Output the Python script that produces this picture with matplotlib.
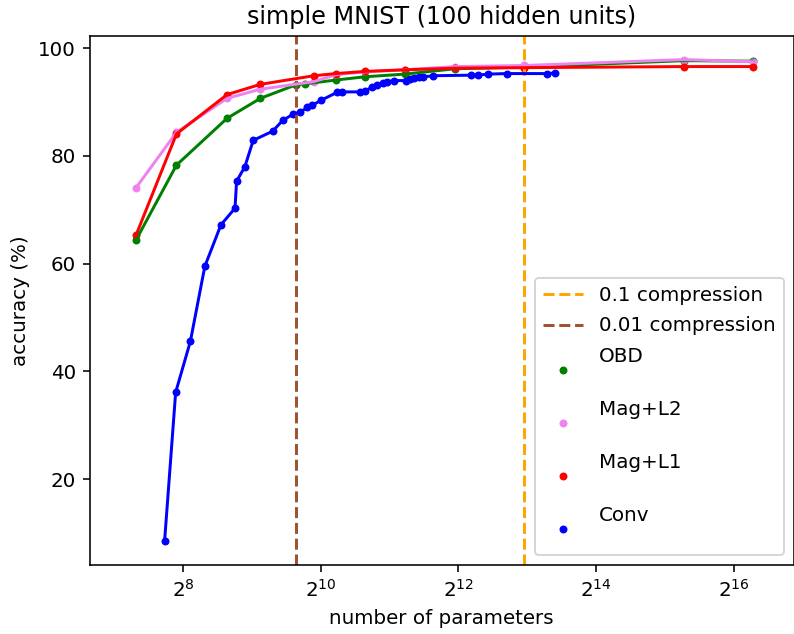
import matplotlib
matplotlib.use('Agg')
import matplotlib.pyplot as plt

# simple MNIST, 784-100-10 net
total_params = 79510
compressions = [0.1, 0.01]

obd_params = [159, 239, 398, 557, 795, 875, 1193, 1590, 2385, 3976, 7951, 39755, 79510]
obd_acc = [64.4, 78.3, 87.0, 90.7, 93.2, 93.4, 94.1, 94.7, 95.2, 96.2, 96.5, 97.7, 97.6]

l2_params = [159, 239, 398, 557, 954, 1193, 1590, 2385, 3976, 7951, 39755, 79510]
l2_acc = [74.1, 84.4, 90.7, 92.4, 93.8, 95.1, 95.6, 96.0, 96.6, 96.8, 97.9, 97.5]

l1_params = [159, 239, 398, 557, 954, 1193, 1590, 2385, 3976, 7951, 39755, 79510]
l1_acc = [65.3, 84.1, 91.4, 93.3, 94.9, 95.3, 95.7, 96.0, 96.3, 96.4, 96.6, 96.6]

conv_params = [212, 237, 275, 318, 374, 431, 438, 476, 518, 630, 697, 777, 831, 891,
               938, 1022, 1204, 1270, 1523, 1603, 1720, 1809, 1912, 2001, 2132, 2412,
               2525, 2629, 2765, 2879, 3185, 4631, 4984, 5514, 6661, 9980, 10850]
conv_acc = [8.5, 36.1, 45.6, 59.5, 67.2, 70.3, 75.3, 78.0, 82.9, 84.6, 86.6, 87.8, 88.1, 89.0,
            89.4, 90.3, 91.8, 91.9, 91.9, 92.1, 92.8, 93.2, 93.5, 93.8, 94.0, 94.0,
            94.2, 94.4, 94.6, 94.7, 94.9, 95.0, 95.0, 95.2, 95.3, 95.3, 95.4]

dpi = 143
fig = plt.figure(figsize=(794 / dpi, 634 / dpi), dpi=dpi)
ax = fig.add_axes([0.1134, 0.1088, 0.8860, 0.8352])

ax.axvline(total_params * compressions[0], color='orange', linestyle='--', label='0.1 compression')
ax.axvline(total_params * compressions[1], color='sienna', linestyle='--', label='0.01 compression')

series = [
    (obd_params, obd_acc, 'green', 'OBD'),
    (l2_params, l2_acc, 'violet', 'Mag+L2'),
    (l1_params, l1_acc, 'red', 'Mag+L1'),
    (conv_params, conv_acc, 'blue', 'Conv'),
]
for x, y, c, name in series:
    ax.plot(x, y, color=c)
    ax.scatter(x, y, color=c, marker='.', label=name + '\n')

ax.set_xscale('log', base=2)
ax.set_xlim(100, 120000)
ax.set_title('simple MNIST (100 hidden units)')
ax.set_xlabel('number of parameters')
ax.set_ylabel('accuracy (%)')
ax.legend(loc='lower right', labelspacing=0.6)

fig.savefig('out.png', dpi=dpi)
